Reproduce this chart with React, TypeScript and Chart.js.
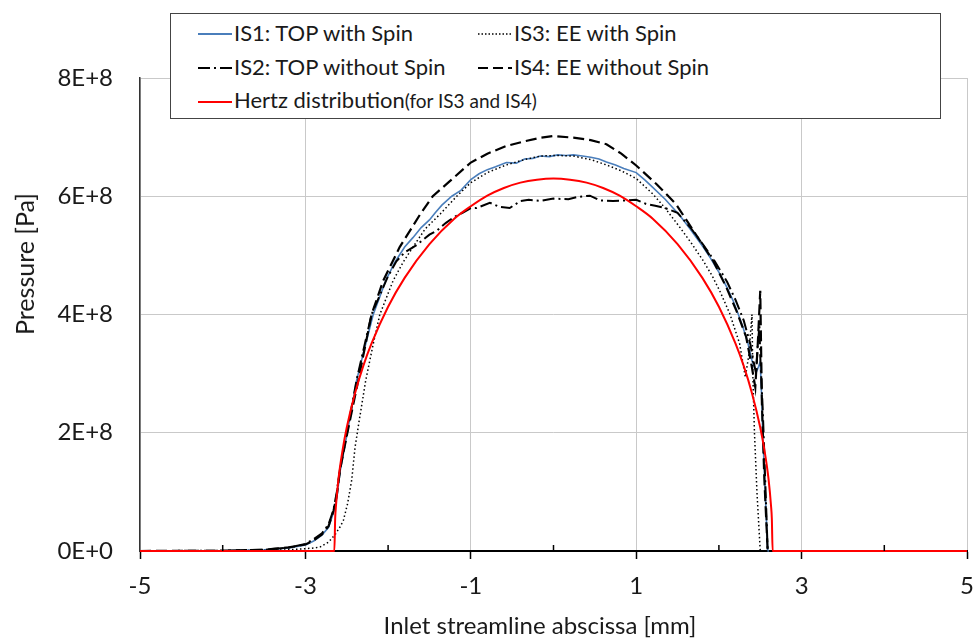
import React, { useEffect, useRef } from 'react';
import { Chart, registerables } from 'chart.js';

Chart.register(...registerables);

// ---- axis ticks ----
const xMajorTicks = [-5, -3, -1, 1, 3, 5];
const xMinorTicks = [-4, -2, 0, 2, 4];
const yTickValues = [0, 2e8, 4e8, 6e8, 8e8];
const yTickLabels = ['0E+0', '2E+8', '4E+8', '6E+8', '8E+8'];

// ---- series (x in mm, pressure in units of 1E+8 Pa) ----
const is1X = [-5, -4, -3.5, -3.2, -3.0, -2.9, -2.8, -2.72, -2.66, -2.62, -2.58, -2.5, -2.44, -2.38, -2.28, -2.18, -2.1, -2.03, -1.92, -1.8, -1.7, -1.6, -1.5, -1.43, -1.35, -1.23, -1.12, -1.0, -0.9, -0.8, -0.7, -0.57, -0.45, -0.35, -0.25, -0.16, -0.05, 0.05, 0.15, 0.24, 0.35, 0.45, 0.55, 0.64, 0.75, 0.85, 1.0, 1.1, 1.2, 1.35, 1.53, 1.65, 1.81, 1.9, 2.01, 2.1, 2.17, 2.23, 2.29, 2.35, 2.4, 2.43, 2.46, 2.48, 2.5, 2.52, 2.53, 2.56, 2.59, 5];
const is1Y = [0, 0.005, 0.02, 0.05, 0.1, 0.17, 0.27, 0.4, 0.65, 0.9, 1.35, 1.95, 2.42, 2.89, 3.45, 4.0, 4.3, 4.57, 4.88, 5.14, 5.3, 5.47, 5.6, 5.72, 5.85, 6.0, 6.1, 6.28, 6.38, 6.45, 6.5, 6.57, 6.56, 6.63, 6.64, 6.68, 6.67, 6.7, 6.69, 6.7, 6.68, 6.66, 6.63, 6.58, 6.53, 6.47, 6.4, 6.28, 6.15, 5.95, 5.67, 5.45, 5.14, 4.95, 4.69, 4.45, 4.24, 4.02, 3.79, 3.52, 3.22, 3.1, 3.05, 3.12, 3.2, 2.5, 2.0, 1.0, 0, 0];

const is2X = [-5, -4, -3.5, -3.2, -3.0, -2.9, -2.8, -2.72, -2.66, -2.62, -2.58, -2.5, -2.38, -2.2, -2.0, -1.9, -1.8, -1.65, -1.5, -1.41, -1.3, -1.2, -1.1, -1.0, -0.93, -0.77, -0.65, -0.53, -0.4, -0.3, -0.16, 0.0, 0.18, 0.3, 0.44, 0.56, 0.72, 0.89, 1.0, 1.12, 1.23, 1.35, 1.5, 1.65, 1.8, 1.95, 2.1, 2.2, 2.3, 2.38, 2.42, 2.45, 2.47, 2.49, 2.5, 2.53, 2.56, 2.59, 5];
const is2Y = [0, 0.005, 0.02, 0.06, 0.12, 0.2, 0.3, 0.45, 0.7, 1.0, 1.4, 1.98, 2.9, 4.0, 4.65, 4.9, 5.05, 5.18, 5.35, 5.42, 5.55, 5.65, 5.72, 5.8, 5.8, 5.89, 5.82, 5.8, 5.92, 5.94, 5.92, 5.96, 5.95, 5.99, 6.01, 5.93, 5.92, 5.93, 5.94, 5.87, 5.84, 5.8, 5.72, 5.48, 5.2, 4.9, 4.55, 4.25, 3.9, 3.5, 3.2, 3.0, 3.5, 3.8, 3.3, 2.4, 1.2, 0, 0];

const is3X = [-5, -4, -3.5, -3.2, -3.0, -2.9, -2.82, -2.72, -2.64, -2.58, -2.54, -2.49, -2.44, -2.4, -2.35, -2.27, -2.18, -2.1, -1.94, -1.82, -1.7, -1.55, -1.37, -1.17, -1.0, -0.8, -0.57, -0.35, -0.16, 0.05, 0.24, 0.45, 0.64, 0.82, 1.0, 1.2, 1.35, 1.53, 1.67, 1.81, 1.92, 2.01, 2.13, 2.25, 2.32, 2.36, 2.4, 2.41, 2.43, 2.46, 2.5, 5];
const is3Y = [0, 0.002, 0.01, 0.02, 0.04, 0.05, 0.07, 0.15, 0.28, 0.41, 0.52, 0.8, 1.2, 1.75, 2.2, 2.89, 3.5, 4.0, 4.57, 4.88, 5.14, 5.45, 5.7, 6.0, 6.23, 6.4, 6.53, 6.62, 6.68, 6.69, 6.68, 6.62, 6.53, 6.43, 6.3, 6.04, 5.8, 5.47, 5.2, 4.91, 4.65, 4.4, 4.02, 3.51, 2.94, 3.3, 4.0, 3.0, 2.0, 1.0, 0, 0];

const is4X = [-5, -4, -3.5, -3.2, -3.0, -2.9, -2.8, -2.72, -2.66, -2.62, -2.58, -2.5, -2.36, -2.2, -2.06, -1.86, -1.61, -1.46, -1.25, -1.0, -0.8, -0.57, -0.35, -0.16, 0.0, 0.24, 0.45, 0.64, 0.82, 1.0, 1.25, 1.48, 1.69, 1.93, 2.09, 2.21, 2.33, 2.4, 2.44, 2.47, 2.5, 2.52, 2.55, 2.59, 5];
const is4Y = [0, 0.005, 0.02, 0.06, 0.11, 0.18, 0.28, 0.42, 0.68, 0.95, 1.38, 1.95, 2.89, 4.0, 4.57, 5.14, 5.7, 6.0, 6.26, 6.57, 6.72, 6.85, 6.93, 6.99, 7.02, 6.99, 6.95, 6.88, 6.72, 6.52, 6.2, 5.87, 5.42, 4.91, 4.46, 4.07, 3.62, 3.1, 2.77, 3.5, 4.4, 2.5, 1.2, 0, 0];

const hertzX = [-5, -2.65, -2.64, -2.63, -2.6, -2.55, -2.5, -2.4, -2.3, -2.2, -2.0, -1.8, -1.5, -1.2, -1.0, -0.8, -0.6, -0.4, -0.2, 0, 0.2, 0.4, 0.6, 0.8, 1.0, 1.2, 1.5, 1.8, 2.0, 2.2, 2.3, 2.4, 2.5, 2.55, 2.6, 2.63, 2.64, 2.65, 5];
const hertzY = [0, 0, 0.55, 0.77, 1.22, 1.71, 2.09, 2.67, 3.13, 3.51, 4.13, 4.62, 5.19, 5.62, 5.83, 6.01, 6.14, 6.23, 6.28, 6.3, 6.28, 6.23, 6.14, 6.01, 5.83, 5.62, 5.19, 4.62, 4.13, 3.51, 3.13, 2.67, 2.09, 1.71, 1.22, 0.77, 0.55, 0, 0];

const seriesNames = ['IS1: TOP with Spin', 'IS2: TOP without Spin', 'IS3: EE with Spin', 'IS4: EE without Spin', 'Hertz distribution'];
const hertzNote = '(for IS3 and IS4)';
const xTitle = 'Inlet streamline abscissa [mm]';
const yTitle = 'Pressure [Pa]';

const BLUE = '#4A7EBB';
const RED = '#FF0000';
const GRID = '#C9C9C9';
const TEXT = '#1a1a1a';
const FONT = 'Lato, "Open Sans", sans-serif';

const toPoints = (xs: number[], ys: number[]) => xs.map((x, i) => ({ x, y: ys[i] * 1e8 }));

const minorTickPlugin = {
  id: 'minorTicks',
  afterDraw(chart: any) {
    const xs = chart.scales.x;
    const ys = chart.scales.y;
    const ctx = chart.ctx;
    const y0 = ys.getPixelForValue(0);
    ctx.save();
    ctx.strokeStyle = '#000';
    ctx.lineWidth = 1.5;
    xMinorTicks.forEach((v) => {
      const px = xs.getPixelForValue(v);
      ctx.beginPath();
      ctx.moveTo(px, y0);
      ctx.lineTo(px, y0 - 6);
      ctx.stroke();
    });
    ctx.restore();
  },
};

function Sample({ color, width, dash }: { color: string; width: number; dash?: string }) {
  return (
    <svg width={34} height={10} style={{ display: 'block' }}>
      <line x1={0} y1={5} x2={34} y2={5} stroke={color} strokeWidth={width} strokeDasharray={dash} />
    </svg>
  );
}

function LegendItem({ left, cy, sample, children }: { left: number; cy: number; sample: React.ReactNode; children: React.ReactNode }) {
  return (
    <div style={{ position: 'absolute', left, top: cy - 14, height: 26, display: 'flex', alignItems: 'center', whiteSpace: 'nowrap' }}>
      <div style={{ marginTop: 2 }}>{sample}</div>
      <span style={{ marginLeft: 2, fontSize: 22, lineHeight: '26px', color: TEXT, fontFamily: FONT }}>{children}</span>
    </div>
  );
}

export default function App() {
  const canvasRef = useRef<HTMLCanvasElement | null>(null);

  useEffect(() => {
    if (!canvasRef.current) return;
    Chart.defaults.font.family = FONT;
    const common = { pointRadius: 0, pointHoverRadius: 0, showLine: true, fill: false, tension: 0, clip: 6 };
    const chart = new Chart(canvasRef.current, {
      type: 'scatter',
      data: {
        datasets: [
          { ...common, label: seriesNames[4], data: toPoints(hertzX, hertzY), borderColor: RED, borderWidth: 2, cubicInterpolationMode: 'monotone', order: 0 },
          { ...common, label: seriesNames[0], data: toPoints(is1X, is1Y), borderColor: BLUE, borderWidth: 1.6, order: 4 },
          { ...common, label: seriesNames[1], data: toPoints(is2X, is2Y), borderColor: '#000', borderWidth: 2, borderDash: [12, 4, 2, 4], order: 3 },
          { ...common, label: seriesNames[2], data: toPoints(is3X, is3Y), borderColor: '#000', borderWidth: 1.5, borderDash: [1.5, 2.5], order: 2 },
          { ...common, label: seriesNames[3], data: toPoints(is4X, is4Y), borderColor: '#000', borderWidth: 2.2, borderDash: [11, 5], order: 1 },
        ] as any,
      },
      options: {
        animation: false,
        responsive: false,
        devicePixelRatio: 1,
        layout: { padding: { top: 78, right: 8, bottom: 0, left: 0 } },
        plugins: { legend: { display: false }, tooltip: { enabled: false } },
        scales: {
          x: {
            type: 'linear',
            min: -5,
            max: 5,
            afterFit: (s: any) => { s.height = 87; s.paddingLeft = 0; s.paddingRight = 0; },
            ticks: {
              stepSize: 1,
              autoSkip: false,
              maxRotation: 0,
              padding: 13,
              color: TEXT,
              font: { size: 24, family: FONT },
              callback: (v: any) => (xMajorTicks.includes(Number(v)) ? String(v) : ''),
            },
            grid: {
              color: (c: any) => (xMajorTicks.includes(c.tick?.value) ? GRID : 'rgba(0,0,0,0)'),
              lineWidth: 1,
              tickColor: (c: any) => (xMajorTicks.includes(c.tick?.value) ? '#000' : 'rgba(0,0,0,0)'),
              tickLength: 8,
              tickWidth: 1.5,
            },
            border: { color: '#000', width: 2 },
          },
          y: {
            type: 'linear',
            min: 0,
            max: 8e8,
            afterFit: (s: any) => { s.width = 140; },
            ticks: {
              stepSize: 2e8,
              padding: 27,
              color: TEXT,
              font: { size: 24, family: FONT },
              callback: (v: any) => {
                const i = yTickValues.indexOf(Number(v));
                return i >= 0 ? yTickLabels[i] : '';
              },
            },
            grid: {
              color: (c: any) => (c.tick?.value === 0 ? 'rgba(0,0,0,0)' : GRID),
              lineWidth: 1,
              drawTicks: false,
            },
            border: { color: '#333', width: 1.5 },
          },
        },
      } as any,
      plugins: [minorTickPlugin],
    });
    return () => chart.destroy();
  }, []);

  return (
    <div style={{ position: 'fixed', left: 0, top: 0, width: 975, height: 638, overflow: 'hidden', background: '#fff' }}>
      <canvas ref={canvasRef} width={975} height={638} style={{ position: 'absolute', left: 0, top: 0, width: 975, height: 638 }} />
      <div style={{ position: 'absolute', left: 24, top: 264, transform: 'translate(-50%, -50%) rotate(-90deg)', whiteSpace: 'nowrap', fontSize: 25, fontFamily: FONT, color: TEXT }}>{yTitle}</div>
      <div style={{ position: 'absolute', left: 540, top: 610, transform: 'translateX(-50%)', whiteSpace: 'nowrap', fontSize: 24, lineHeight: '30px', fontFamily: FONT, color: TEXT }}>{xTitle}</div>
      <div style={{ position: 'absolute', left: 170, top: 13, width: 771, height: 106, boxSizing: 'border-box', border: '1.5px solid #444', background: '#fff' }} />
      <LegendItem left={198} cy={33.5} sample={<Sample color={BLUE} width={2} />}>{seriesNames[0]}</LegendItem>
      <LegendItem left={478} cy={33.5} sample={<Sample color="#000" width={1.5} dash="1.5 2" />}>{seriesNames[2]}</LegendItem>
      <LegendItem left={198} cy={68} sample={<Sample color="#000" width={2} dash="12 4 2 4" />}>{seriesNames[1]}</LegendItem>
      <LegendItem left={478} cy={68} sample={<Sample color="#000" width={2} dash="10 5" />}>{seriesNames[3]}</LegendItem>
      <LegendItem left={198} cy={101.5} sample={<Sample color={RED} width={2} />}>
        {seriesNames[4]}
        <span style={{ fontSize: 19 }}>{hertzNote}</span>
      </LegendItem>
    </div>
  );
}
